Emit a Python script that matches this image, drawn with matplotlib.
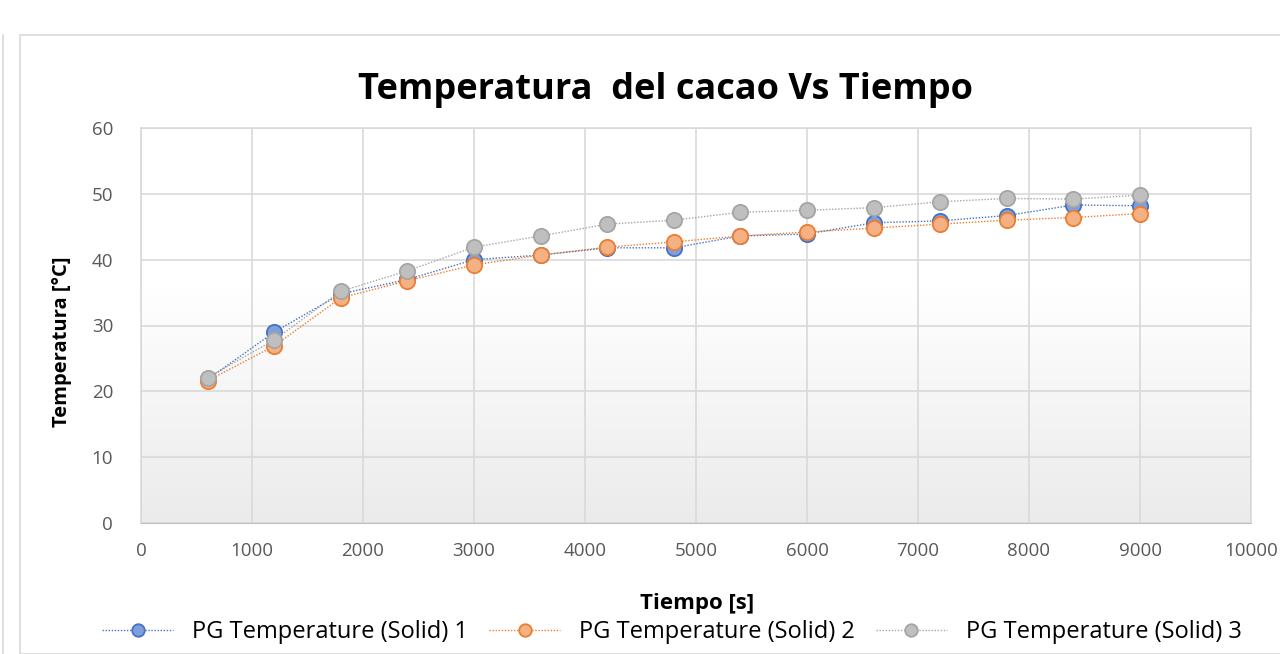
import numpy as np
import matplotlib
matplotlib.use("Agg")
import matplotlib.pyplot as plt
from matplotlib.patches import Rectangle
from matplotlib.lines import Line2D

# data
tiempo = [600, 1200, 1800, 2400, 3000, 3600, 4200, 4800, 5400, 6000, 6600, 7200, 7800, 8400, 9000]
solid1 = [21.8, 29.0, 34.8, 37.0, 40.0, 40.7, 41.8, 41.8, 43.6, 43.9, 45.6, 45.9, 46.7, 48.3, 48.2]
solid2 = [21.6, 26.9, 34.2, 36.8, 39.2, 40.7, 41.9, 42.7, 43.6, 44.2, 44.8, 45.4, 46.0, 46.4, 47.0]
solid3 = [22.1, 27.8, 35.2, 38.3, 41.9, 43.6, 45.4, 46.0, 47.2, 47.5, 47.9, 48.8, 49.3, 49.2, 49.8]
labels = ["PG Temperature (Solid) 1", "PG Temperature (Solid) 2", "PG Temperature (Solid) 3"]

plt.rcParams["font.family"] = ["Open Sans", "DejaVu Sans"]

W, H = 1280, 654
fig = plt.figure(figsize=(W / 100, H / 100), dpi=100)

# chart frame
fig.patches.append(Rectangle((20 / W, 0), 1.2, (H - 35) / H, transform=fig.transFigure,
                             fill=False, edgecolor="#d9d9d9", linewidth=1.2))
fig.lines.append(Line2D([3 / W, 3 / W], [0, (H - 35) / H], transform=fig.transFigure,
                        color="#d9d9d9", linewidth=1.2))

ax = fig.add_axes([141 / W, 1 - 523 / H, (1251 - 141) / W, (523 - 128) / H])

# gradient background of plot area: white on top, light gray at the bottom
grad = np.linspace(0, 1, 256)
grad = np.clip((grad - 0.4) / 0.6, 0, 1).reshape(-1, 1)
cmap = matplotlib.colors.LinearSegmentedColormap.from_list("g", ["#ffffff", "#ebebeb"])
ax.imshow(grad, cmap=cmap, extent=[0, 1, 0, 1], transform=ax.transAxes,
          aspect="auto", zorder=0, vmin=0, vmax=1, origin="upper")

styles = [
    ("#4472C4", "#7f9fdc"),
    ("#ED7D31", "#f4b183"),
    ("#A5A5A5", "#bfbfbf"),
]
for ys, lab, (ec, fc) in zip([solid1, solid2, solid3], labels, styles):
    ax.plot(tiempo, ys, linestyle=(0, (1, 1.2)), linewidth=1.0, color=ec,
            marker="o", markersize=11, markerfacecolor=fc, markeredgecolor=ec,
            markeredgewidth=1.3, label=lab, zorder=3)

ax.set_xlim(0, 10000)
ax.set_ylim(0, 60)
ax.set_xticks(np.arange(0, 10001, 1000))
ax.set_yticks(np.arange(0, 61, 10))
ax.grid(True, color="#d9d9d9", linewidth=1.2, zorder=1)
ax.set_axisbelow(True)
for s in ("top", "right", "left"):
    ax.spines[s].set_color("#d9d9d9")
    ax.spines[s].set_linewidth(1.2)
ax.spines["bottom"].set_color("#bfbfbf")
ax.tick_params(length=0, labelsize=13.5, colors="#595959", pad=14)
ax.tick_params(axis="y", pad=20)

fig.text(666 / W, 1 - 90 / H, "Temperatura  del cacao Vs Tiempo",
         ha="center", va="center", fontsize=26, fontweight="bold", color="#000000")
fig.text(697 / W, 1 - 604 / H, "Tiempo [s]", ha="center", va="center",
         fontsize=16, fontweight="bold", color="#000000")
fig.text(62 / W, 1 - 342 / H, "Temperatura [°C]", ha="center", va="center",
         rotation=90, fontsize=14.5, fontweight="bold", color="#000000")

handles, labs = ax.get_legend_handles_labels()
leg = fig.legend(handles, labs, loc="center", bbox_to_anchor=(672 / W, 1 - 632 / H),
                 ncol=3, frameon=False, fontsize=17, handlelength=3.0,
                 columnspacing=0.9, handletextpad=0.8, labelcolor="#000000")
for h in leg.legend_handles:
    h.set_markersize(9)

fig.savefig("out.png", dpi=100)
